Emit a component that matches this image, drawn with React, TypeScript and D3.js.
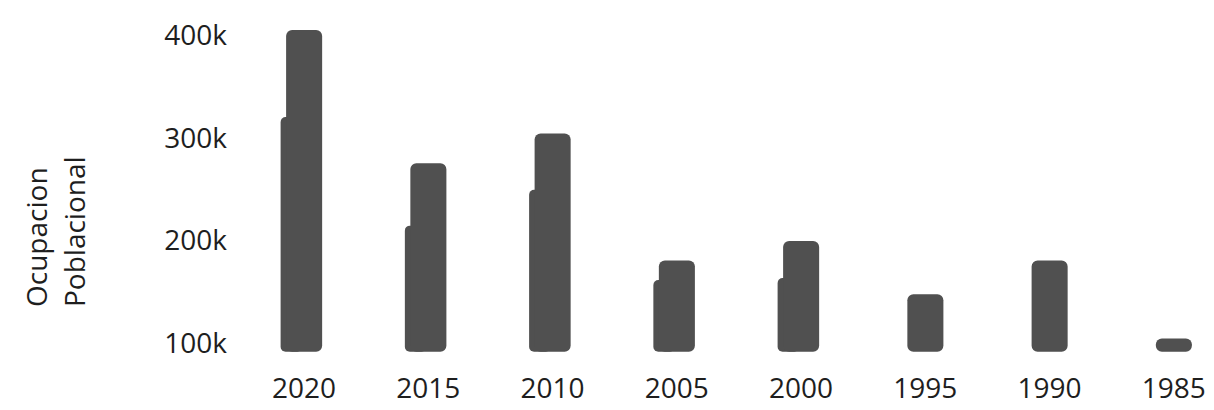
import React from "react";
import * as d3 from "d3";

const years = ["2020", "2015", "2010", "2005", "2000", "1995", "1990", "1985"];
const peakValues = [405000, 275000, 304000, 180000, 199000, 147000, 180000, 104000];
const lowerValues: (number | null)[] = [320000, 214000, 249000, 161000, 163000, null, null, null];
const yTicks = [100000, 200000, 300000, 400000];
const baseValue = 91000;

const W = 1214;
const H = 410;

function roundedRect(x: number, y: number, w: number, h: number, r: number) {
  const p = d3.path();
  const rr = Math.min(r, h / 2, w / 2);
  p.moveTo(x + rr, y);
  p.lineTo(x + w - rr, y);
  p.arcTo(x + w, y, x + w, y + rr, rr);
  p.lineTo(x + w, y + h - rr);
  p.arcTo(x + w, y + h, x + w - rr, y + h, rr);
  p.lineTo(x + rr, y + h);
  p.arcTo(x, y + h, x, y + h - rr, rr);
  p.lineTo(x, y + rr);
  p.arcTo(x, y, x + rr, y, rr);
  p.closePath();
  return p.toString();
}

export default function App() {
  const x = d3
    .scaleBand<string>()
    .domain(years)
    .range([242, 1236])
    .paddingInner(0.71)
    .paddingOuter(0.355);
  const y = d3.scaleLinear().domain([100000, 400000]).range([342.5, 35]);
  const bw = x.bandwidth();
  const fmt = (v: number) => `${v / 1000}k`;
  const fill = "#505050";
  const font = "'Open Sans', sans-serif";

  return (
    <svg width={W} height={H} style={{ position: "absolute", left: 0, top: 0, background: "#fff" }}>
      <g>
        {years.map((yr, i) => {
          const x0 = x(yr)!;
          const low = lowerValues[i];
          const yb = y(baseValue);
          return (
            <g key={yr}>
              {low !== null && (
                <path d={roundedRect(x0 - 5.5, y(low), bw * 0.6, yb - y(low), 5)} fill={fill} />
              )}
              <path d={roundedRect(x0, y(peakValues[i]), bw, yb - y(peakValues[i]), 6)} fill={fill} />
            </g>
          );
        })}
      </g>
      <g fontFamily={font} fontSize={28} fill="#1e1e1e">
        {yTicks.map((t) => (
          <text key={t} x={227} y={y(t)} dy="0.36em" textAnchor="end">
            {fmt(t)}
          </text>
        ))}
        {years.map((yr) => (
          <text key={yr} x={x(yr)! + bw / 2} y={398} textAnchor="middle">
            {yr}
          </text>
        ))}
        <text transform="translate(47,307) rotate(-90)" textAnchor="start">
          Ocupacion
        </text>
        <text transform="translate(85,307) rotate(-90)" textAnchor="start">
          Poblacional
        </text>
      </g>
    </svg>
  );
}
